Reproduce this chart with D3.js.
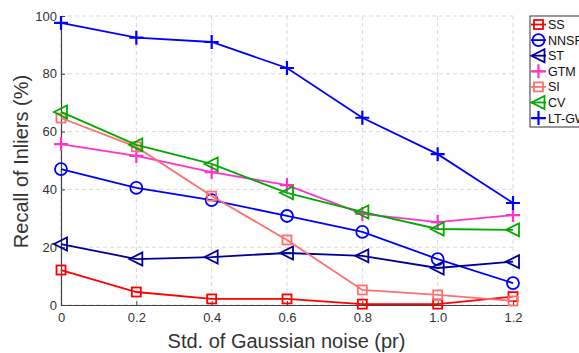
<!DOCTYPE html>
<html><head><meta charset="utf-8">
<script src="https://cdn.jsdelivr.net/npm/d3@7"></script>
<style>body{margin:0;background:#fff;overflow:hidden}svg{display:block;font-family:"Liberation Sans",Arial,sans-serif}</style>
</head><body><svg id="c" width="579" height="353"></svg>
<script>
const noise = [0, 0.2, 0.4, 0.6, 0.8, 1.0, 1.2];
const xTicks = ["0", "0.2", "0.4", "0.6", "0.8", "1.0", "1.2"];
const yTicks = [0, 20, 40, 60, 80, 100];
const seriesNames = ["SS", "NNSF", "ST", "GTM", "SI", "CV", "LT-GW"];
const SS   = [12.1, 4.5, 2.1, 2.1, 0.3, 0.3, 2.9];
const NNSF = [47.0, 40.5, 36.3, 30.8, 25.3, 15.9, 7.6];
const ST   = [21.1, 15.9, 16.6, 18.0, 17.0, 12.8, 15.0];
const GTM  = [55.7, 51.6, 46.0, 41.5, 31.5, 28.7, 31.1];
const SI   = [64.7, 54.7, 37.7, 22.5, 5.2, 3.5, 1.4];
const CV   = [66.8, 55.4, 48.8, 38.8, 32.2, 26.3, 26.0];
const LTGW = [97.6, 92.5, 91.0, 82.0, 64.8, 52.2, 35.3];
const seriesValues = [SS, NNSF, ST, GTM, SI, CV, LTGW];
const colors = ["#ff0000", "#0000ff", "#00009a", "#ff33cc", "#ff6f6f", "#00aa00", "#0000ff"];
const markers = ["square", "circle", "triLeft", "plus", "square", "triLeft", "plus"];

const svg = d3.select("#c");
const L = 61, R = 513, T = 16, B = 305;
const x = d3.scaleLinear().domain([0, 1.2]).range([L, R]);
const y = d3.scaleLinear().domain([0, 100]).range([B, T]);

// grid
const g = svg.append("g");
g.selectAll(".vg").data(noise).enter().append("line")
  .attr("x1", d => x(d)).attr("x2", d => x(d)).attr("y1", T).attr("y2", B)
  .attr("stroke", "#d9d9d9").attr("stroke-dasharray", "4,3").attr("stroke-width", 1);
g.selectAll(".hg").data(yTicks).enter().append("line")
  .attr("x1", L).attr("x2", R).attr("y1", d => y(d)).attr("y2", d => y(d))
  .attr("stroke", "#d9d9d9").attr("stroke-dasharray", "4,3").attr("stroke-width", 1);

// axes
const xa = svg.append("g").attr("transform", `translate(0,${B})`)
  .call(d3.axisBottom(x).tickValues(noise).tickFormat((d, i) => xTicks[i]).tickSizeInner(-4).tickSizeOuter(0).tickPadding(8));
const ya = svg.append("g").attr("transform", `translate(${L},0)`)
  .call(d3.axisLeft(y).tickValues(yTicks).tickSizeInner(-4).tickSizeOuter(0).tickPadding(4));
[xa, ya].forEach(a => {
  a.select(".domain").attr("stroke", "#444").attr("stroke-width", 1.2);
  a.selectAll(".tick line").attr("stroke", "#444");
  a.selectAll("text").attr("font-size", 13).attr("fill", "#333").attr("font-family", "Liberation Sans, Arial, sans-serif");
});

function drawMarker(sel, type, color, cx, cy) {
  if (type === "square") {
    sel.append("rect").attr("x", cx - 4.5).attr("y", cy - 4.5).attr("width", 9).attr("height", 9)
      .attr("fill", "none").attr("stroke", color).attr("stroke-width", 1.8);
  } else if (type === "circle") {
    sel.append("circle").attr("cx", cx).attr("cy", cy).attr("r", 6)
      .attr("fill", "none").attr("stroke", color).attr("stroke-width", 1.8);
  } else if (type === "triLeft") {
    sel.append("path").attr("d", `M${cx - 7},${cy} L${cx + 6},${cy - 6.5} L${cx + 6},${cy + 6.5} Z`)
      .attr("fill", "none").attr("stroke", color).attr("stroke-width", 1.8);
  } else if (type === "plus") {
    sel.append("path").attr("d", `M${cx - 7},${cy} H${cx + 7} M${cx},${cy - 7} V${cy + 7}`)
      .attr("fill", "none").attr("stroke", color).attr("stroke-width", 2.2);
  }
}

const line = d3.line().x((d, i) => x(noise[i])).y(d => y(d));
const plot = svg.append("g");
seriesValues.forEach((vals, k) => {
  const sg = plot.append("g");
  sg.append("path").datum(vals).attr("d", line).attr("fill", "none")
    .attr("stroke", colors[k]).attr("stroke-width", 1.8);
  vals.forEach((v, i) => drawMarker(sg, markers[k], colors[k], x(noise[i]), y(v)));
});

// labels
svg.append("text").attr("x", 286.5).attr("y", 348).attr("text-anchor", "middle")
  .attr("font-size", 20).attr("fill", "#333").text("Std. of Gaussian noise (pr)");
svg.append("text").attr("transform", `translate(28,161.5) rotate(-90)`).attr("text-anchor", "middle")
  .attr("font-size", 20).attr("fill", "#333").text("Recall of Inliers (%)");

// legend (clipped at the right edge, as in the reference)
const lg = svg.append("g");
lg.append("rect").attr("x", 530).attr("y", 16).attr("width", 60).attr("height", 111)
  .attr("fill", "#fff").attr("stroke", "#333").attr("stroke-width", 1);
seriesNames.forEach((n, k) => {
  const ly = 24.5 + k * 15.6;
  lg.append("line").attr("x1", 531).attr("x2", 546).attr("y1", ly).attr("y2", ly)
    .attr("stroke", colors[k]).attr("stroke-width", 1.8);
  drawMarker(lg, markers[k], colors[k], 538.5, ly);
  lg.append("text").attr("x", 548).attr("y", ly + 4.5).attr("font-size", 12.5).attr("fill", "#111").text(n);
});
</script></body></html>
